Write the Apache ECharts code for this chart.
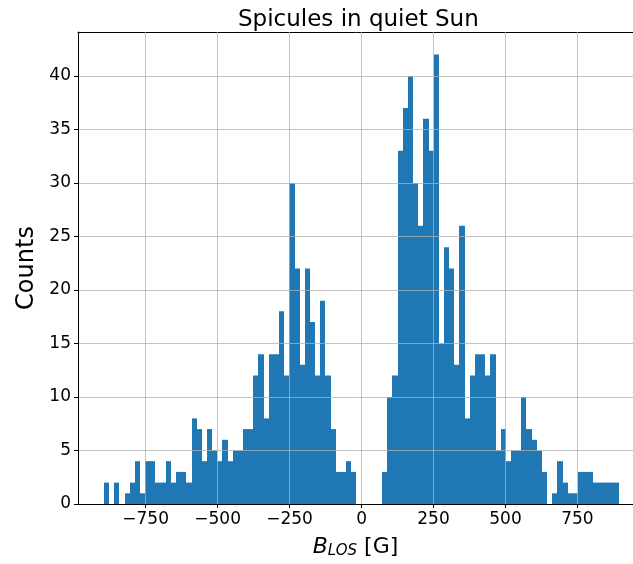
<!DOCTYPE html>
<html>
<head>
<meta charset="utf-8">
<script src="https://cdn.jsdelivr.net/npm/echarts@6/dist/echarts.min.js"></script>
<style>
  html, body { margin: 0; padding: 0; background: #fff; }
  #chart { width: 633px; height: 564px; }
</style>
</head>
<body>
<div id="chart"></div>
<script>
// histogram of B_LOS, 100 equal bins
const binStart = -895;
const binWidth = 17.9;
const counts = [
  2, 0, 2, 0, 1, 2, 4, 1, 4, 4,
  2, 2, 4, 2, 3, 3, 2, 8, 7, 4,
  7, 5, 4, 6, 4, 5, 5, 7, 7, 12,
  14, 8, 14, 14, 18, 12, 30, 22, 13, 22,
  17, 12, 19, 12, 7, 3, 3, 4, 3, 0,
  0, 0, 0, 0, 3, 10, 12, 33, 37, 40,
  30, 26, 36, 33, 42, 15, 24, 22, 13, 26,
  8, 12, 14, 14, 12, 14, 5, 7, 4, 5,
  5, 10, 7, 6, 5, 3, 0, 1, 4, 2,
  1, 1, 3, 3, 3, 2, 2, 2, 2, 2
];
const xTicks = [-750, -500, -250, 0, 250, 500, 750];
const yTicks = [0, 5, 10, 15, 20, 25, 30, 35, 40];

const histData = counts.map((c, i) => [binStart + i * binWidth, binStart + (i + 1) * binWidth, c]);

const font = "DejaVu Sans";
const fmtMinus = v => (v < 0 ? "\u2212" + Math.abs(v) : String(v));
const gridLine = { show: true, lineStyle: { color: "rgba(176,176,176,0.75)", width: 1 } };

const chart = echarts.init(document.getElementById("chart"), null, { renderer: "canvas" });
chart.setOption({
  backgroundColor: "#fff",
  animation: false,
  title: {
    text: "Spicules in quiet Sun",
    left: 233,
    top: 4,
    textStyle: { fontFamily: font, fontSize: 23, fontWeight: "normal", color: "#000" }
  },
  grid: { left: 78, top: 32, width: 555, height: 473 },
  xAxis: [{
    type: "value",
    min: -985,
    max: 943,
    z: 5,
    name: "{i|B}{s|LOS} [G]",
    nameLocation: "middle",
    nameGap: 32,
    nameTextStyle: {
      fontFamily: font, fontSize: 22, color: "#000",
      rich: {
        i: { fontFamily: font, fontSize: 22, fontStyle: "italic", color: "#000" },
        s: { fontFamily: font, fontSize: 15, fontStyle: "italic", color: "#000", verticalAlign: "bottom", padding: [8, 0, 0, 0] }
      }
    },
    axisLine: { show: true, onZero: false, lineStyle: { color: "#000", width: 1 } },
    axisTick: { show: true, length: 4, customValues: xTicks, lineStyle: { color: "#000" } },
    axisLabel: {
      customValues: xTicks, formatter: fmtMinus, margin: 7,
      fontFamily: font, fontSize: 17, color: "#000"
    },
    splitLine: gridLine
  }, {
    // top spine only
    type: "value",
    position: "top",
    min: -985,
    max: 943,
    axisLine: { show: true, onZero: false, lineStyle: { color: "#000", width: 1 } },
    axisTick: { show: false },
    axisLabel: { show: false },
    splitLine: { show: false }
  }],
  yAxis: {
    type: "value",
    min: 0,
    max: 44.1,
    z: 5,
    name: "Counts",
    nameLocation: "middle",
    nameGap: 36,
    nameTextStyle: { fontFamily: font, fontSize: 24, color: "#000" },
    axisLine: { show: true, onZero: false, lineStyle: { color: "#000", width: 1 } },
    axisTick: { show: true, length: 4, customValues: yTicks, lineStyle: { color: "#000" } },
    axisLabel: {
      customValues: yTicks, margin: 7,
      fontFamily: font, fontSize: 17, color: "#000"
    },
    splitLine: gridLine
  },
  series: [{
    type: "custom",
    z: 2,
    xAxisIndex: 0,
    data: histData,
    encode: { x: [0, 1], y: 2 },
    renderItem: (params, api) => {
      if (!api.value(2)) return null;
      const top = api.coord([api.value(0), api.value(2)]);
      const bottom = api.coord([api.value(1), 0]);
      // snap bin edges to whole pixels so neighbouring bars join without seams
      const x0 = Math.round(top[0]);
      const x1 = Math.round(bottom[0]);
      return {
        type: "rect",
        shape: { x: x0, y: top[1], width: x1 - x0, height: bottom[1] - top[1] },
        style: { fill: "#1f77b4" }
      };
    }
  }]
});
</script>
</body>
</html>
